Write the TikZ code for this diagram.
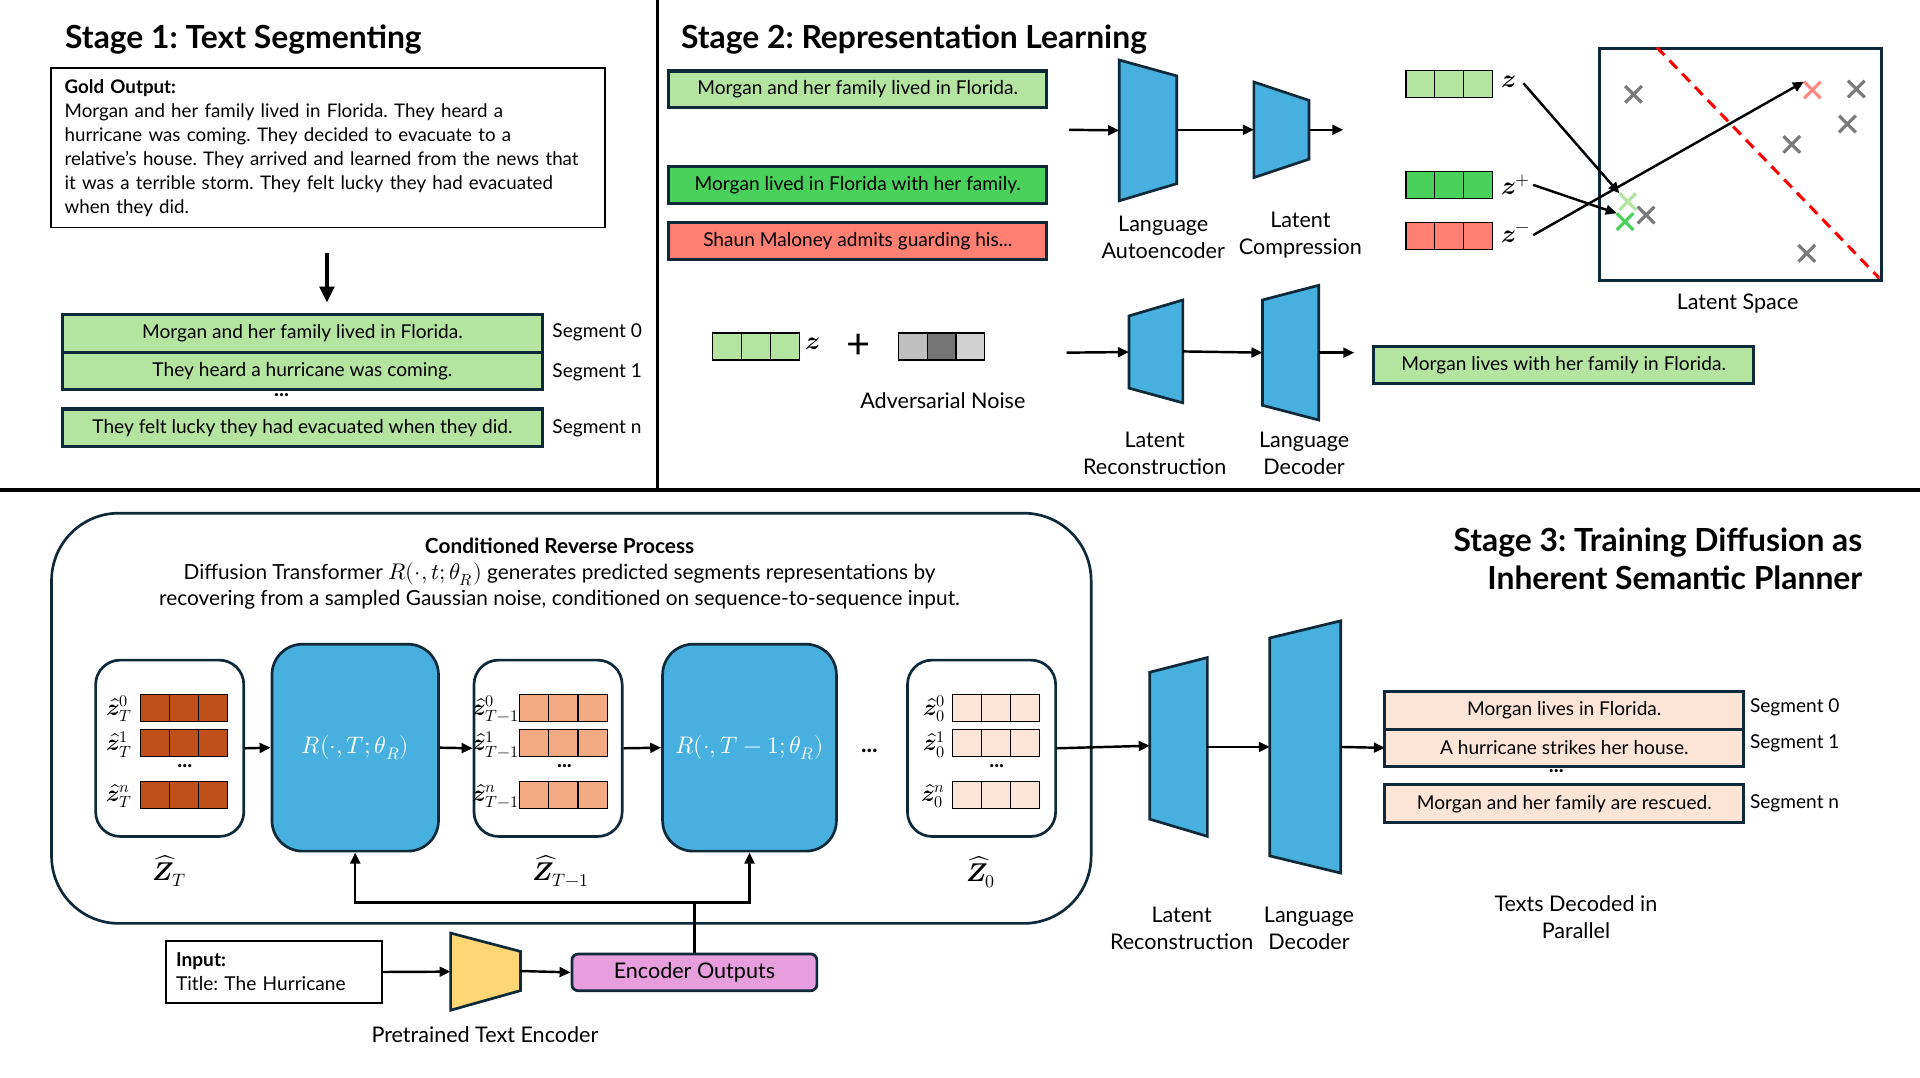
\documentclass[tikz,border=0pt]{standalone}
\usepackage{fontspec}
\setmainfont{Lato}
\usepackage{unicode-math}
\setmathfont{Latin Modern Math}
\usetikzlibrary{arrows.meta,calc,shapes.misc}
\definecolor{edgec}{HTML}{0E2A3A}
\definecolor{lgreen}{HTML}{B4E4A0}
\definecolor{mgreen}{HTML}{4AD15C}
\definecolor{salmon}{HTML}{FF7F73}
\definecolor{lred}{HTML}{FF8A80}
\definecolor{tblue}{HTML}{47B0DF}
\definecolor{dorange}{HTML}{C0501A}
\definecolor{morange}{HTML}{F2AA82}
\definecolor{peach}{HTML}{FCE4D6}
\definecolor{tyellow}{HTML}{FED673}
\definecolor{tpink}{HTML}{E69EDC}
\definecolor{xgray}{HTML}{7A7A7A}
\newcommand\fsz[2]{\fontsize{#1}{#2}\selectfont}
% trapezoid: name, xl, xr, y top left, y bottom left, y top right, y bottom right, fill
\newcommand\trapz[8]{%
  \filldraw[draw=edgec, line width=2.2pt, fill=#8, line join=miter] (#2,#4) -- (#3,#6) -- (#3,#7) -- (#2,#5) -- cycle;
  \path (#2,{(#4+#5)/2}) coordinate (#1-w) (#3,{(#6+#7)/2}) coordinate (#1-e);}
% vector of three cells: name, left x, top y, width, height, c1, c2, c3
\newcommand\vecbox[8]{%
  \node[cell, fill=#6, minimum width={(#4/3)*1pt}, minimum height={#5*1pt}, anchor=north west] (#1a) at (#2,#3) {};
  \node[cell, fill=#7, minimum width={(#4/3)*1pt}, minimum height={#5*1pt}, anchor=west] (#1b) at (#1a.east) {};
  \node[cell, fill=#8, minimum width={(#4/3)*1pt}, minimum height={#5*1pt}, anchor=west] (#1c) at (#1b.east) {};}
\begin{document}
\frenchspacing
\begin{tikzpicture}[x=1pt,y=-1pt,
  arr/.style={line width=2pt, -{Triangle[length=9pt,width=8pt]}},
  cell/.style={draw=black, line width=1pt, inner sep=0, outer sep=0},
  segbox/.style={draw=edgec, line width=2.5pt, inner sep=0, outer sep=0, font=\fsz{15.6}{19}},
  body/.style={font=\fsz{15.6}{19.6}, inner sep=0},
  lbl/.style={font=\fsz{17.6}{22}, align=center, inner sep=0},
  title/.style={font=\bfseries\fsz{26}{31}, inner sep=0},
  dots/.style={font=\bfseries\fsz{17}{17}, inner sep=0},
  zbox/.style={draw=edgec, line width=2.2pt, rounded corners=20pt, minimum width=121pt, minimum height=144pt, inner sep=0, anchor=north west},
  rbox/.style={draw=edgec, line width=2.2pt, fill=tblue, rounded corners=25pt, minimum height=169pt, inner sep=0, anchor=north west, text=white, font=\fsz{19.5}{19.5}},
  xm/.style={cross out, draw=#1, line width=2.6pt, minimum size=11pt, inner sep=0},
  mlab/.style={font=\fsz{19}{19}, inner sep=0},
  zlab/.style={font=\fsz{21}{21}, inner sep=0}
]
\fill[white] (0,0) rectangle (1568,880);
\useasboundingbox (0,0) rectangle (1568,880);

% ---------------- dividers
\draw[line width=3pt] (537,0) -- (537,399);
\draw[line width=3pt] (0,400) -- (1568,400);

% ---------------- Stage 1
\node[title, anchor=west] (t1) at (53,32) {Stage 1: Text Segmenting};
\node[draw=black, line width=1.6pt, anchor=north west, minimum width=452pt, minimum height=130pt,
      text width=430pt, align=left, inner xsep=11pt, inner ysep=0, font=\fsz{15.3}{19.6}] (gold) at (41,55)
  {\textbf{Gold Output:}\\
   Morgan and her family lived in Florida. They heard a\\
   hurricane was coming. They decided to evacuate to a\\
   relative's house. They arrived and learned from the news that\\
   it was a terrible storm. They felt lucky they had evacuated\\
   when they did.};
\coordinate (darrs) at (267,207);
\coordinate (darre) at (267,247);
\node[segbox, fill=lgreen, minimum width=392pt, minimum height=30.5pt, anchor=north west] (s0) at (51,257) {Morgan and her family lived in Florida.};
\node[segbox, fill=lgreen, minimum width=392pt, minimum height=30.5pt, anchor=north] (s1) at (s0.south) {They heard a hurricane was coming.};
\node[dots] (s1dots) at (230,323) {...};
\node[segbox, fill=lgreen, minimum width=392pt, minimum height=31pt, anchor=north west] (sn) at (51,334) {They felt lucky they had evacuated when they did.};
\draw[line width=3pt, -{Triangle[length=13pt,width=12pt]}] (darrs) -- (darre);
\node[body, anchor=west] (l0) at (451,271) {Segment 0};
\node[body, anchor=west] (l1) at (451,304) {Segment 1};
\node[body, anchor=west] (ln) at (451,350) {Segment n};

% ---------------- Stage 2
\node[title, anchor=west] (t2) at (556,32) {Stage 2: Representation Learning};
\node[segbox, fill=lgreen, minimum width=309pt, minimum height=30pt, anchor=north west] (b1) at (546,58) {Morgan and her family lived in Florida.};
\node[segbox, fill=mgreen, minimum width=309pt, minimum height=30pt, anchor=north west] (b2) at (546,136) {Morgan lived in Florida with her family.};
\node[segbox, fill=salmon, minimum width=309pt, minimum height=30pt, anchor=north west] (b3) at (546,182) {Shaun Maloney admits guarding his...};

\coordinate (in2) at (873,106);
\trapz{ae}{914}{961}{49}{164}{62}{150}{tblue}
\trapz{lc}{1024}{1069}{67}{145}{82}{130}{tblue}
\coordinate (out2) at (1097,106);
\draw[arr] (in2) -- (ae-w);
\draw[arr] (ae-e) -- (lc-w);
\draw[arr] (lc-e) -- (out2);
\node[lbl] (aelab) at (950,194) {Language\\Autoencoder};
\node[lbl] (lclab) at (1062,192) {Latent\\Compression};

% vectors z, z+, z-
\vecbox{vz}{1148.3}{57.7}{70.5}{21.8}{lgreen}{lgreen}{lgreen}
\vecbox{vzp}{1148.3}{140.2}{70.5}{21.8}{mgreen}{mgreen}{mgreen}
\vecbox{vzm}{1148.3}{182}{70.5}{22}{salmon}{salmon}{salmon}
\node[zlab] (zl) at (1232,67) {$\symbfit{z}$};
\node[zlab] (zpl) at (1238,151) {$\symbfit{z}^{+}$};
\node[zlab] (zml) at (1238,192) {$\symbfit{z}^{-}$};

% latent space
\node[draw=edgec, line width=2.5pt, minimum width=230pt, minimum height=189pt, inner sep=0, anchor=north west] (ls) at (1305,38.5) {};
\begin{scope}
\clip (1305,38.5) rectangle (1535,227.5);
\draw[red, line width=2.5pt, dash pattern=on 9pt off 6pt] (1353,38.6) -- (1536,228.5);
\end{scope}
\node[xm=xgray] (c1) at (1334,77) {};
\node[xm=lred] (cr) at (1480,73.5) {};
\node[xm=xgray] (c2) at (1516,72.7) {};
\node[xm=xgray] (c3) at (1508.7,101.3) {};
\node[xm=xgray] (c4) at (1463.3,117.9) {};
\node[xm=lgreen] (clg) at (1329.3,164.7) {};
\node[xm=xgray] (c5) at (1344.3,175.6) {};
\node[xm=mgreen] (cg) at (1327.1,181) {};
\node[xm=xgray] (c6) at (1475.5,206.9) {};
\draw[arr] ([xshift=6pt,yshift=-1pt]zl.east) -- (clg.north west);
\draw[arr] ([xshift=2pt]zpl.east) -- (cg.north west);
\draw[arr] ([xshift=2pt]zml.east) -- (cr.north west);
\node[lbl] (lslab) at (1419,248) {Latent Space};

% second row
\vecbox{nz}{582}{272}{71}{22}{lgreen}{lgreen}{lgreen}
\node[zlab] (nzl) at (664,281) {$\symbfit{z}$};
\node[font=\fsz{34}{34}, inner sep=0] (plus) at (701,283) {+};
\vecbox{nn}{734}{272}{70}{22}{black!25}{black!54}{black!18}
\node[lbl] (advlab) at (770,327) {Adversarial Noise};

\coordinate (in3) at (871,288);
\trapz{lr}{922}{966}{258}{317}{245}{329}{tblue}
\trapz{ld}{1031}{1077}{245}{331}{233}{343}{tblue}
\draw[arr] (in3) -- (lr-w);
\draw[arr] (lr-e) -- (ld-w);
\node[segbox, fill=lgreen, minimum width=310pt, minimum height=30pt, anchor=north west] (ob) at (1122,283) {Morgan lives with her family in Florida.};
\coordinate (out3) at (1106,288);
\draw[arr] (ld-e) -- (out3);
\node[lbl] (lrlab) at (943,370) {Latent\\Reconstruction};
\node[lbl] (ldlab) at (1065,370) {Language\\Decoder};

% ---------------- Stage 3
\node[title, align=right, anchor=east] (t3) at (1521,456) {Stage 3: Training Diffusion as\\Inherent Semantic Planner};

\node[draw=edgec, line width=2.2pt, rounded corners=55pt, minimum width=849pt, minimum height=335pt, inner sep=0, anchor=north west] (crp) at (41,418) {};
\node[font=\bfseries\fsz{17}{17}, inner sep=0] (crpt) at (457,446) {Conditioned Reverse Process};
\node[font=\fsz{17}{21}, align=center, inner sep=0] (crpd) at (457,478.5)
  {Diffusion Transformer {\fsz{18.5}{21}$R(\cdot,t;\theta_R)$} generates predicted segments representations by\\
   recovering from a sampled Gaussian noise, conditioned on sequence-to-sequence input.};

% Z_T
\node[zbox] (zT) at (77,538) {};
\vecbox{zta}{115}{567}{71}{22}{dorange}{dorange}{dorange}
\vecbox{ztb}{115}{596}{71}{22}{dorange}{dorange}{dorange}
\vecbox{ztn}{115}{638}{71}{22}{dorange}{dorange}{dorange}
\node[mlab, anchor=east] (lzt0) at (108,579) {$\hat{\symbfit{z}}_T^0$};
\node[mlab, anchor=east] (lzt1) at (108,608) {$\hat{\symbfit{z}}_T^1$};
\node[mlab, anchor=east] (lztn) at (108,650) {$\hat{\symbfit{z}}_T^n$};
\node[dots] (dzt) at (151,626) {...};
\node[font=\fsz{21}{21}, inner sep=0] (zTl) at (138,711) {$\widehat{\symbfit{Z}}_T$};

% R1
\node[rbox, minimum width=136pt] (r1) at (221,525) {$R(\cdot,T;\theta_R)$};

% Z_{T-1}
\node[zbox] (zT1) at (386,538) {};
\vecbox{zsa}{424}{567}{72}{22}{morange}{morange}{morange}
\vecbox{zsb}{424}{596}{72}{22}{morange}{morange}{morange}
\vecbox{zsn}{424}{638}{72}{22}{morange}{morange}{morange}
\node[mlab, anchor=east] (lzs0) at (424,579) {$\hat{\symbfit{z}}_{T-1}^0$};
\node[mlab, anchor=east] (lzs1) at (424,608) {$\hat{\symbfit{z}}_{T-1}^1$};
\node[mlab, anchor=east] (lzsn) at (424,650) {$\hat{\symbfit{z}}_{T-1}^n$};
\node[dots] (dzs) at (461,626) {...};
\node[font=\fsz{21}{21}, inner sep=0] (zT1l) at (458,711) {$\widehat{\symbfit{Z}}_{T-1}$};

% R2
\node[rbox, minimum width=142pt] (r2) at (540,525) {$R(\cdot,T-1;\theta_R)$};
\node[dots, font=\bfseries\fsz{19}{19}] (mdots) at (710,613) {...};

% Z_0
\node[zbox] (z0) at (740,538) {};
\vecbox{z0a}{778}{567}{71}{22}{peach}{peach}{peach}
\vecbox{z0b}{778}{596}{71}{22}{peach}{peach}{peach}
\vecbox{z0n}{778}{638}{71}{22}{peach}{peach}{peach}
\node[mlab, anchor=east] (lz00) at (772,579) {$\hat{\symbfit{z}}_0^0$};
\node[mlab, anchor=east] (lz01) at (772,608) {$\hat{\symbfit{z}}_0^1$};
\node[mlab, anchor=east] (lz0n) at (772,650) {$\hat{\symbfit{z}}_0^n$};
\node[dots] (dz0) at (814,626) {...};
\node[font=\fsz{21}{21}, inner sep=0] (z0l) at (801,712) {$\widehat{\symbfit{Z}}_0$};

\draw[arr] (zT.east) -- (r1.west);
\draw[arr] (r1.east) -- (zT1.west);
\draw[arr] (zT1.east) -- (r2.west);

% decoders
\trapz{lr3}{939}{986}{549}{669}{537}{683}{tblue}
\trapz{ld3}{1037}{1095}{521}{699}{507}{713}{tblue}
\draw[arr] (z0.east) -- (lr3-w);
\draw[arr] (lr3-e) -- (ld3-w);
\node[segbox, fill=peach, minimum width=293pt, minimum height=30.5pt, anchor=north west] (o0) at (1131,565) {Morgan lives in Florida.};
\node[segbox, fill=peach, minimum width=293pt, minimum height=30.5pt, anchor=north] (o1) at (o0.south) {A hurricane strikes her house.};
\node[dots] (odots) at (1271,630) {...};
\node[segbox, fill=peach, minimum width=293pt, minimum height=31pt, anchor=north west] (on) at (1131,641) {Morgan and her family are rescued.};
\draw[arr] (ld3-e) -- (o1.west);
\node[body, anchor=west] (m0) at (1429,578) {Segment 0};
\node[body, anchor=west] (m1) at (1429,607) {Segment 1};
\node[body, anchor=west] (mn) at (1429,656) {Segment n};
\node[lbl] (lr3lab) at (965,758) {Latent\\Reconstruction};
\node[lbl] (ld3lab) at (1069,758) {Language\\Decoder};
\node[lbl] (tdp) at (1287,749) {Texts Decoded in\\Parallel};

% input / encoder
\node[draw=black, line width=1.6pt, minimum width=176pt, minimum height=50pt, anchor=north west,
      text width=160pt, align=left, inner xsep=8pt, inner ysep=0, font=\fsz{15.6}{19.5}] (inp) at (135,768)
  {\textbf{Input:}\\Title: The Hurricane};
\trapz{pte}{368}{425}{762}{825}{777}{809}{tyellow}
\node[draw=edgec, line width=2.2pt, fill=tpink, rounded corners=5pt, minimum width=200pt, minimum height=30pt, inner sep=0, anchor=north west, font=\fsz{17.6}{17.6}] (eo) at (466,778) {Encoder Outputs};
\draw[arr] (inp.east) -- (pte-w);
\draw[arr] (pte-e) -- (eo.west);
\node[lbl] (ptel) at (396,845) {Pretrained Text Encoder};
\draw[line width=2pt] (eo.north) -- (eo.north |- 0,737) coordinate (jn);
\draw[arr] (jn) -| (r1.south);
\draw[arr] (jn) -| (r2.south);
\end{tikzpicture}
\end{document}
